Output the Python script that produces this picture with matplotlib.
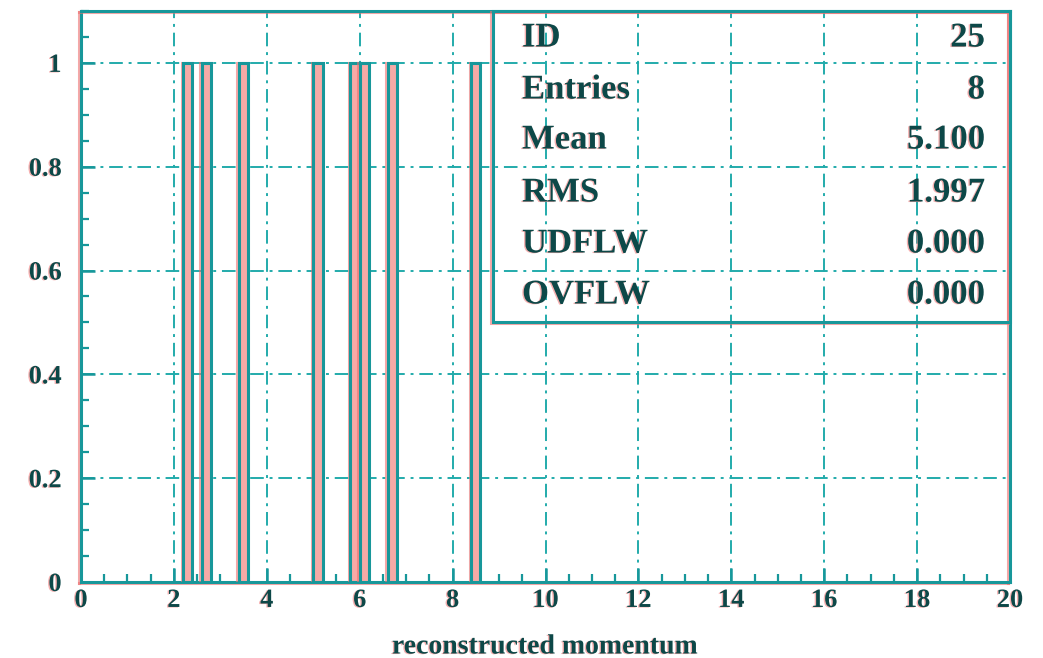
import numpy as np
import matplotlib
matplotlib.use("Agg")
import matplotlib.pyplot as plt
import matplotlib.patheffects as pe
from matplotlib.patches import Rectangle
from matplotlib.ticker import MultipleLocator, FuncFormatter

# Histogram 25: reconstructed momentum, 100 bins on [0, 20]
hist_id = 25
entries = [2.3, 2.7, 3.5, 5.1, 5.9, 6.1, 6.7, 8.5]
n_bins = 100
x_range = (0.0, 20.0)
underflow = 0.0
overflow = 0.0
x_title = "reconstructed momentum"

counts, edges = np.histogram(entries, bins=n_bins, range=x_range)
centers = 0.5 * (edges[:-1] + edges[1:])
width = edges[1] - edges[0]
mean = np.mean(entries)
rms = np.std(entries)

TEAL = "#17979a"
DARK = "#0d4848"
FRINGE = "#ee6f6f"
SERIF = ["Liberation Serif", "DejaVu Serif"]

text_fx = [pe.SimplePatchShadow(offset=(-1.0, -0.4), shadow_rgbFace=FRINGE, alpha=0.55), pe.Normal()]
line_fx = [pe.SimpleLineShadow(offset=(-1.1, -0.4), shadow_color=FRINGE, alpha=0.6), pe.Normal()]

fig = plt.figure(figsize=(10.43, 6.58), dpi=100)
ax = fig.add_axes([81 / 1043, 76 / 658, 929 / 1043, 571 / 658])

ax.set_xlim(*x_range)
ax.set_ylim(0, 1.1)

# bins drawn as individual boxes
nz = counts > 0
bars = ax.bar(centers[nz], counts[nz], width=width, align="center",
              facecolor="#f6aaa6", edgecolor=TEAL, linewidth=2.2, zorder=3)
for b in bars:
    b.set_path_effects(line_fx)

# axes frame and ticks
for s in ax.spines.values():
    s.set_color(TEAL)
    s.set_linewidth(2.2)
    s.set_path_effects(line_fx)

ax.xaxis.set_major_locator(MultipleLocator(2))
ax.xaxis.set_minor_locator(MultipleLocator(0.5))
ax.yaxis.set_major_locator(MultipleLocator(0.2))
ax.yaxis.set_minor_locator(MultipleLocator(0.05))
ax.yaxis.set_major_formatter(FuncFormatter(lambda v, p: "%g" % round(v, 3)))
ax.xaxis.set_major_formatter(FuncFormatter(lambda v, p: "%g" % round(v, 3)))

ax.tick_params(which="both", direction="in", color=TEAL, top=False, right=False)
ax.tick_params(which="major", length=10, width=1.8)
ax.tick_params(which="minor", length=6, width=1.6)
ax.tick_params(axis="y", which="major", pad=14, labelsize=19, labelcolor=DARK)
ax.tick_params(axis="x", which="major", pad=5, labelsize=19, labelcolor=DARK)

ax.grid(True, which="major", color="#22abab", linewidth=1.4,
        linestyle=(0, (7, 3, 1.5, 3)), zorder=1)
ax.set_axisbelow(True)

for lab in ax.get_xticklabels() + ax.get_yticklabels():
    lab.set_fontfamily(SERIF)
    lab.set_fontweight("bold")
    lab.set_path_effects(text_fx)

ax.set_xlabel(x_title, fontsize=20, fontweight="bold", family=SERIF,
              color=DARK, va="center", path_effects=text_fx)
ax.xaxis.set_label_coords((545 - 81) / 929, (582 - 647) / 571)

# statistics box
box_left = (493 - 81) / 929
box_bottom = (582 - 322) / 571
stat_box = Rectangle((box_left, box_bottom), 1 - box_left, 1 - box_bottom,
                     transform=ax.transAxes, fill=False, edgecolor=TEAL,
                     linewidth=2.2, zorder=4, clip_on=False)
stat_box.set_path_effects(line_fx)
ax.add_patch(stat_box)

stat_names = ["ID", "Entries", "Mean", "RMS", "UDFLW", "OVFLW"]
stat_values = [str(hist_id), str(len(entries)), "%.3f" % mean, "%.3f" % rms,
               "%.3f" % underflow, "%.3f" % overflow]
row_y = [38, 90, 140, 193, 244, 295]
for name, val, yp in zip(stat_names, stat_values, row_y):
    yf = (582 - yp) / 571
    ax.text((522 - 81) / 929, yf, name, transform=ax.transAxes, ha="left",
            va="center", fontsize=25, fontweight="bold", family=SERIF,
            color=DARK, path_effects=text_fx, zorder=5)
    ax.text((985 - 81) / 929, yf, val, transform=ax.transAxes, ha="right",
            va="center", fontsize=25, fontweight="bold", family=SERIF,
            color=DARK, path_effects=text_fx, zorder=5)

fig.savefig("out.png", dpi=100, facecolor="white")
